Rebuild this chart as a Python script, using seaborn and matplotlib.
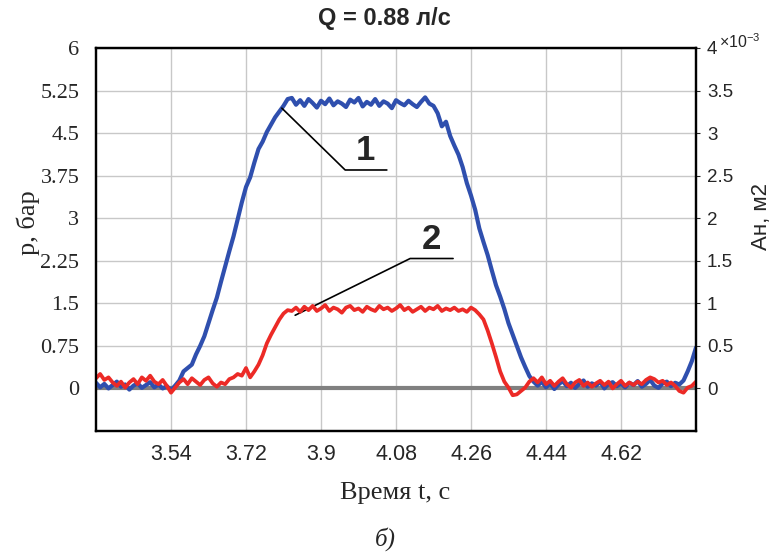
import seaborn as sns
import matplotlib.pyplot as plt
import pandas as pd

# time samples, s
time = [
    3.36, 3.37, 3.38, 3.39, 3.40, 3.41, 3.42, 3.43, 3.44, 3.45,
    3.46, 3.47, 3.48, 3.49, 3.50, 3.51, 3.52, 3.53, 3.54, 3.55,
    3.56, 3.57, 3.58, 3.59, 3.60, 3.61, 3.62, 3.63, 3.64, 3.65,
    3.66, 3.67, 3.68, 3.69, 3.70, 3.71, 3.72, 3.73, 3.74, 3.75,
    3.76, 3.77, 3.78, 3.79, 3.80, 3.81, 3.82, 3.83, 3.84, 3.85,
    3.86, 3.87, 3.88, 3.89, 3.90, 3.91, 3.92, 3.93, 3.94, 3.95,
    3.96, 3.97, 3.98, 3.99, 4.00, 4.01, 4.02, 4.03, 4.04, 4.05,
    4.06, 4.07, 4.08, 4.09, 4.10, 4.11, 4.12, 4.13, 4.14, 4.15,
    4.16, 4.17, 4.18, 4.19, 4.20, 4.21, 4.22, 4.23, 4.24, 4.25,
    4.26, 4.27, 4.28, 4.29, 4.30, 4.31, 4.32, 4.33, 4.34, 4.35,
    4.36, 4.37, 4.38, 4.39, 4.40, 4.41, 4.42, 4.43, 4.44, 4.45,
    4.46, 4.47, 4.48, 4.49, 4.50, 4.51, 4.52, 4.53, 4.54, 4.55,
    4.56, 4.57, 4.58, 4.59, 4.60, 4.61, 4.62, 4.63, 4.64, 4.65,
    4.66, 4.67, 4.68, 4.69, 4.70, 4.71, 4.72, 4.73, 4.74, 4.75,
    4.76, 4.77, 4.78, 4.79, 4.80,
]

# curve 1: pressure, bar
pressure = [
    0.10, 0.02, 0.08, 0.00, 0.06, 0.12, 0.03, 0.07, -0.02, 0.05,
    0.09, 0.01, 0.06, 0.11, 0.02, 0.07, 0.00, 0.04, -0.03, 0.05,
    0.14, 0.30, 0.36, 0.42, 0.60, 0.75, 0.92, 1.15, 1.38, 1.60,
    1.88, 2.15, 2.42, 2.68, 2.98, 3.28, 3.55, 3.72, 3.98, 4.22,
    4.35, 4.52, 4.65, 4.78, 4.88, 4.98, 5.10, 5.12, 5.00, 5.08,
    4.98, 5.10, 5.03, 4.95, 5.07, 5.01, 5.11, 4.99, 5.06, 5.02,
    4.96, 5.09, 5.04, 5.12, 4.97, 5.05, 5.00, 5.10, 4.98, 5.06,
    5.02, 4.94, 5.08, 5.03, 4.99, 5.07, 5.01, 4.96, 5.05, 5.13,
    5.02, 4.98, 4.85, 4.62, 4.70, 4.45, 4.28, 4.12, 3.90, 3.62,
    3.40, 3.15, 2.82, 2.58, 2.35, 2.08, 1.82, 1.62, 1.40, 1.15,
    0.95, 0.75, 0.55, 0.38, 0.22, 0.12, 0.05, 0.12, 0.02, 0.09,
    -0.01, 0.07, 0.13, 0.04, 0.10, 0.01, 0.08, 0.14, 0.03, 0.09,
    0.05, 0.12, 0.00, 0.08, 0.11, 0.04, 0.09, 0.02, 0.10, 0.06,
    0.13, 0.03, 0.08, 0.15, 0.05, 0.01, 0.09, 0.12, 0.04, 0.10,
    0.07, 0.14, 0.30, 0.48, 0.72,
]

# curve 2: area, x10^-3 m2
area = [
    0.12, 0.17, 0.10, 0.13, 0.07, 0.03, 0.08, 0.01, 0.07, 0.11,
    0.05, 0.13, 0.09, 0.15, 0.08, 0.05, 0.10, 0.03, -0.05, 0.01,
    0.07, 0.11, 0.05, 0.12, 0.08, 0.04, 0.10, 0.13, 0.06, 0.02,
    0.07, 0.05, 0.11, 0.13, 0.17, 0.15, 0.24, 0.13, 0.20, 0.28,
    0.39, 0.53, 0.63, 0.72, 0.81, 0.88, 0.92, 0.91, 0.95, 0.90,
    0.96, 0.92, 0.97, 0.91, 0.94, 0.98, 0.91, 0.95, 0.93, 0.89,
    0.95, 0.97, 0.92, 0.94, 0.90, 0.96, 0.93, 0.91, 0.97, 0.93,
    0.95, 0.91, 0.94, 0.98, 0.92, 0.95, 0.90, 0.93, 0.96, 0.91,
    0.95, 0.93, 0.97, 0.91, 0.94, 0.92, 0.95, 0.91, 0.93, 0.90,
    0.95, 0.92, 0.87, 0.81, 0.68, 0.53, 0.37, 0.20, 0.08, 0.01,
    -0.08, -0.07, -0.03, 0.01, 0.08, 0.12, 0.07, 0.13, 0.05, 0.09,
    0.03, 0.08, 0.12, 0.05, 0.01, 0.07, 0.10, 0.03, 0.07, 0.02,
    0.06, 0.09, 0.04, 0.08, 0.00, 0.05, 0.09, 0.03, 0.07, 0.04,
    0.08, 0.05, 0.10, 0.13, 0.11, 0.07, 0.09, 0.04, 0.07, 0.03,
    -0.03, -0.05, 0.01, 0.03, 0.08,
]

x_ticks = [3.54, 3.72, 3.9, 4.08, 4.26, 4.44, 4.62]
p_ticks = [0, 0.75, 1.5, 2.25, 3, 3.75, 4.5, 5.25, 6]
a_ticks = [0, 0.5, 1, 1.5, 2, 2.5, 3, 3.5, 4]

df = pd.DataFrame({"t": time, "p": pressure, "A": area})

sns.set_style("white")
plt.rcParams["font.family"] = ["Liberation Sans", "DejaVu Sans"]
plt.rcParams["mathtext.fontset"] = "custom"
plt.rcParams["mathtext.rm"] = "Liberation Sans"

BLUE = "#2f4fae"
RED = "#ec2a26"
SERIF = ["Liberation Serif", "DejaVu Serif"]

fig = plt.figure(figsize=(7.7, 5.54), dpi=100)
ax = fig.add_axes([96 / 770, 1 - 431 / 554, 600 / 770, 383 / 554])
ax2 = ax.twinx()

ax.axhline(0, color="#808080", lw=3, zorder=2)
sns.lineplot(data=df, x="t", y="p", ax=ax, color=BLUE, linewidth=3.0, zorder=3)
sns.lineplot(data=df, x="t", y="A", ax=ax2, color=RED, linewidth=2.7)

ax.set_xlim(3.36, 4.80)
ax.set_ylim(-0.75, 6)
ax2.set_ylim(-0.5, 4)
ax.set_xticks(x_ticks)
ax.set_xticklabels([f"{v:g}" for v in x_ticks], fontsize=15.5)
ax.set_yticks(p_ticks)
ax.set_yticklabels([f"{v:g}" for v in p_ticks], fontsize=16, family=SERIF)
ax2.set_yticks(a_ticks)
ax2.set_yticklabels([f"{v:g}" for v in a_ticks], fontsize=13.5)

ax.grid(True, color="#c8c8c8", lw=1)
ax.tick_params(axis="x", length=0, pad=9)
ax.tick_params(axis="y", length=0, pad=12)
ax2.tick_params(axis="y", length=3, width=0.8, pad=5)
for a in (ax, ax2):
    for s in a.spines.values():
        s.set_color("black")
        s.set_linewidth(1.6)
ax.set_xlabel("")
ax.set_ylabel("")
ax2.set_ylabel("")

# leader lines and curve numbers
ax.plot([3.806, 3.958, 4.058], [4.94, 3.85, 3.85], color="black", lw=1.2, zorder=4)
ax.text(4.006, 4.2, "1", fontsize=25, fontweight="bold", ha="center", va="center")
ax.plot([3.838, 4.114, 4.217], [1.29, 2.29, 2.29], color="black", lw=1.2, zorder=4)
ax.text(4.166, 2.62, "2", fontsize=25, fontweight="bold", ha="center", va="center")

fig.text(384 / 770, 1 - 18 / 554, "Q = 0.88 л/с", fontsize=17, fontweight="bold",
         ha="center", va="center")
fig.text(719 / 770, 1 - 42 / 554, r"×10$^{-3}$", fontsize=11.5,
         ha="left", va="center")
fig.text(395 / 770, 1 - 493 / 554, "Время t, с", fontsize=19, family=SERIF,
         ha="center", va="center")
fig.text(28 / 770, 1 - 223 / 554, "р, бар", fontsize=19, family=SERIF,
         rotation=90, ha="center", va="center")
fig.text(761 / 770, 1 - 217 / 554, "Ан, м2", fontsize=16,
         rotation=90, ha="center", va="center")
fig.text(385 / 770, 1 - 539 / 554, "б)", fontsize=18, family=SERIF, style="italic",
         ha="center", va="center")

plt.savefig("out.png", dpi=100)
